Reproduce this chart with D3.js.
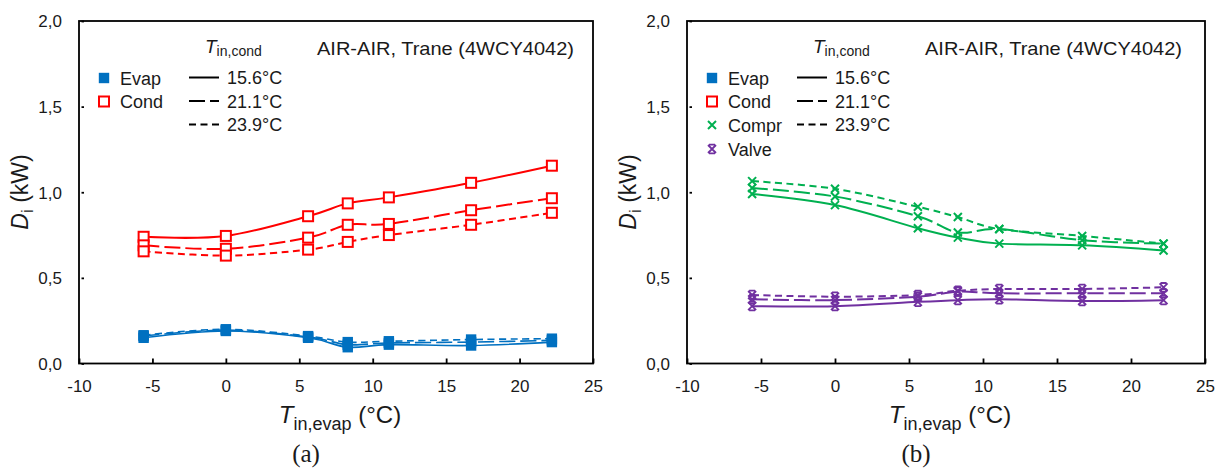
<!DOCTYPE html>
<html><head><meta charset="utf-8">
<script src="https://cdn.jsdelivr.net/npm/d3@7"></script>
<style>
body{margin:0;background:#fff}
svg{display:block}
text{font-family:"Liberation Sans",Arial,sans-serif;fill:#1a1a1a}
text.serif{font-family:"Liberation Serif","Times New Roman",serif}
</style>
</head><body>
<svg id="c" width="1219" height="470"></svg>
<script>
// ---- data ----
const tinEvap = [-5.6, 0, 5.6, 8.3, 11.1, 16.7, 22.2];
const xTicks = [-10, -5, 0, 5, 10, 15, 20, 25];
const yTicks = [0, 0.5, 1.0, 1.5, 2.0];
const condTempLabels = ["15.6°C", "21.1°C", "23.9°C"];
const panelLabels = ["(a)", "(b)"];
const annotation = "AIR-AIR, Trane (4WCY4042)";

const evap156 = [0.150, 0.190, 0.150, 0.095, 0.110, 0.105, 0.125];
const evap211 = [0.160, 0.195, 0.155, 0.110, 0.120, 0.125, 0.135];
const evap239 = [0.165, 0.200, 0.160, 0.125, 0.130, 0.140, 0.145];

const cond156 = [0.740, 0.745, 0.860, 0.935, 0.970, 1.055, 1.155];
const cond211 = [0.690, 0.670, 0.735, 0.810, 0.815, 0.895, 0.965];
const cond239 = [0.655, 0.630, 0.665, 0.710, 0.750, 0.810, 0.880];

const compr156 = [0.990, 0.925, 0.790, 0.735, 0.700, 0.690, 0.660];
const compr211 = [1.025, 0.975, 0.860, 0.765, 0.785, 0.720, 0.700];
const compr239 = [1.065, 1.020, 0.915, 0.855, 0.785, 0.745, 0.700];

const valve156 = [0.335, 0.335, 0.360, 0.370, 0.375, 0.365, 0.370];
const valve211 = [0.375, 0.370, 0.390, 0.420, 0.410, 0.410, 0.410];
const valve239 = [0.400, 0.390, 0.400, 0.425, 0.435, 0.435, 0.445];

// ---- styles ----
const colors = {Evap: "#0070C0", Cond: "#FF0000", Compr: "#00B050", Valve: "#7030A0"};
const dashes = [null, "16,5", "7,4.5"];

const svg = d3.select("#c");

const panels = [
  {x0: 79, x1: 593, label: panelLabels[0], legend: ["Evap", "Cond"],
   series: [
     {kind: "Evap", data: [evap156, evap211, evap239]},
     {kind: "Cond", data: [cond156, cond211, cond239]}
   ]},
  {x0: 687, x1: 1205, label: panelLabels[1], legend: ["Evap", "Cond", "Compr", "Valve"],
   series: [
     {kind: "Compr", data: [compr156, compr211, compr239]},
     {kind: "Valve", data: [valve156, valve211, valve239]}
   ]}
];
const yTop = 21, yBot = 363.5;

function drawMarker(g, kind, cx, cy) {
  const c = colors[kind];
  if (kind === "Evap") {
    g.append("rect").attr("x", cx - 5.2).attr("y", cy - 5.2).attr("width", 10.4).attr("height", 10.4)
      .attr("fill", c);
  } else if (kind === "Cond") {
    g.append("rect").attr("x", cx - 5).attr("y", cy - 5).attr("width", 10).attr("height", 10)
      .attr("fill", "#fff").attr("stroke", c).attr("stroke-width", 2);
  } else if (kind === "Compr") {
    g.append("path").attr("d", `M${cx-4},${cy-4}L${cx+4},${cy+4}M${cx-4},${cy+4}L${cx+4},${cy-4}`)
      .attr("stroke", c).attr("stroke-width", 2).attr("fill", "none");
  } else {
    g.append("path").attr("d",
      `M${cx-4},${cy-4}L${cx+4},${cy+4}M${cx-4},${cy+4}L${cx+4},${cy-4}M${cx-3},${cy-4.3}L${cx+3},${cy-4.3}M${cx-3},${cy+4.3}L${cx+3},${cy+4.3}`)
      .attr("stroke", c).attr("stroke-width", 1.8).attr("fill", "none");
  }
}

panels.forEach(p => {
  const x = d3.scaleLinear().domain([-10, 25]).range([p.x0, p.x1]);
  const y = d3.scaleLinear().domain([0, 2]).range([yBot, yTop]);
  const g = svg.append("g");

  // frame
  g.append("rect").attr("x", p.x0).attr("y", yTop).attr("width", p.x1 - p.x0).attr("height", yBot - yTop)
    .attr("fill", "none").attr("stroke", "#000").attr("stroke-width", 1.8);

  // axes via d3 axis
  const fmtY = d => d3.format(".1f")(d).replace(".", ",");
  const fmtX = d => String(d);
  const ay = g.append("g").attr("transform", `translate(${p.x0},0)`)
    .call(d3.axisLeft(y).tickValues(yTicks).tickFormat(fmtY).tickSizeInner(-5).tickSizeOuter(0).tickPadding(17));
  ay.select(".domain").remove();
  ay.selectAll(".tick line").attr("stroke", "#000").attr("stroke-width", 1.8).attr("x1", 2.5);
  ay.selectAll(".tick text").attr("font-size", 17).attr("fill", "#1a1a1a")
    .attr("x", -17).attr("dy", "0.35em");

  const ax = g.append("g").attr("transform", `translate(0,${yBot})`)
    .call(d3.axisBottom(x).tickValues(xTicks).tickFormat(fmtX).tickSizeInner(-5).tickSizeOuter(0));
  ax.select(".domain").remove();
  ax.selectAll(".tick line").attr("stroke", "#000").attr("stroke-width", 1.8);
  ax.selectAll(".tick text").attr("font-size", 17).attr("fill", "#1a1a1a")
    .attr("y", 28).attr("dy", 0);

  // series
  const line = d3.line().x((d, i) => x(tinEvap[i])).y(d => y(d)).curve(d3.curveCatmullRom.alpha(0));
  p.series.forEach(s => {
    const sw = s.kind === "Evap" ? 1.6 : 2;
    s.data.forEach((arr, k) => {
      const path = g.append("path").attr("d", line(arr)).attr("fill", "none")
        .attr("stroke", colors[s.kind]).attr("stroke-width", sw);
      if (dashes[k]) path.attr("stroke-dasharray", dashes[k]);
      arr.forEach((v, i) => drawMarker(g, s.kind, x(tinEvap[i]), y(v)));
    });
  });

  // legend: components
  const rows = [78, 101.5, 125, 149];
  p.legend.forEach((k, i) => {
    drawMarker(g, k, p.x0 + 25, rows[i]);
    g.append("text").attr("x", p.x0 + 41).attr("y", rows[i] + 6.5).attr("font-size", 18).text(k);
  });
  // legend: temperatures
  g.append("text").attr("x", p.x0 + 126).attr("y", 53)
    .call(t => {
      t.append("tspan").attr("font-size", 19).attr("font-style", "italic").text("T");
      t.append("tspan").attr("font-size", 14).attr("dy", 3).text("in,cond");
    });
  condTempLabels.forEach((lab, i) => {
    const ly = rows[i] - 0.5;
    const ln = g.append("line").attr("x1", p.x0 + 110).attr("x2", p.x0 + 140).attr("y1", ly).attr("y2", ly)
      .attr("stroke", "#000").attr("stroke-width", 2);
    if (dashes[i]) ln.attr("stroke-dasharray", dashes[i]);
    g.append("text").attr("x", p.x0 + 148).attr("y", ly + 6.5).attr("font-size", 18).text(lab);
  });
  g.append("text").attr("x", p.x0 + 238).attr("y", 55).attr("font-size", 18.5)
    .attr("textLength", 257).attr("lengthAdjust", "spacingAndGlyphs").text(annotation);

  // axis titles
  const cx = (p.x0 + p.x1) / 2;
  g.append("text").attr("x", cx + 4).attr("y", 423).attr("text-anchor", "middle")
    .call(t => {
      t.append("tspan").attr("font-size", 24).attr("font-style", "italic").text("T");
      t.append("tspan").attr("font-size", 18).attr("dy", 7).text("in,evap");
      t.append("tspan").attr("font-size", 24).attr("dy", -7).text(" (°C)");
    });
  g.append("text").attr("transform", `translate(${p.x0 - 51},192) rotate(-90)`).attr("text-anchor", "middle")
    .call(t => {
      t.append("tspan").attr("font-size", 23).attr("font-style", "italic").text("D");
      t.append("tspan").attr("font-size", 17).attr("dy", 5).text("i");
      t.append("tspan").attr("font-size", 23).attr("dy", -5).text(" (kW)");
    });
  g.append("text").attr("class", "serif").attr("x", cx - 30).attr("y", 462).attr("text-anchor", "middle")
    .attr("font-size", 25).text(p.label);
});
</script>
</body></html>
